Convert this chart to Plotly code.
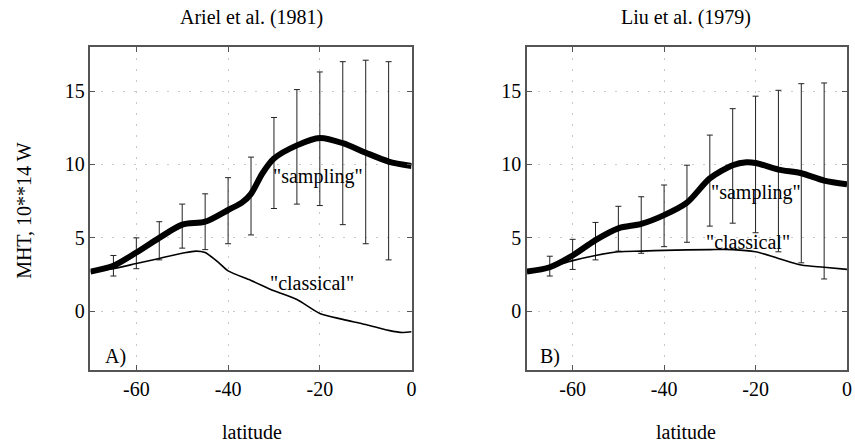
import plotly.graph_objects as go

# ---- data ----
lat_curve_A = [-70, -65, -60, -55, -50, -45, -40, -37, -35, -32.5, -30, -25, -20, -15, -10, -5, 0]
sampling_A = [2.7, 3.1, 4.0, 5.0, 5.9, 6.1, 6.9, 7.4, 8.0, 9.4, 10.4, 11.3, 11.8, 11.45, 10.8, 10.2, 9.9]

lat_class_A = [-70, -65, -60, -55, -50, -47, -45, -42, -40, -35, -30, -25, -20, -15, -10, -5, -2, 0]
classical_A = [2.7, 2.9, 3.25, 3.6, 3.95, 4.1, 4.0, 3.3, 2.75, 2.1, 1.4, 0.8, -0.15, -0.55, -0.9, -1.3, -1.45, -1.4]

lat_curve_B = [-70, -65, -60, -55, -50, -45, -40, -35, -30, -25, -22, -20, -15, -10, -5, 0]
sampling_B = [2.7, 3.0, 3.8, 4.85, 5.65, 5.95, 6.55, 7.4, 9.05, 9.95, 10.15, 10.1, 9.65, 9.4, 8.9, 8.65]

lat_class_B = [-70, -65, -60, -55, -50, -45, -40, -30, -25, -20, -15, -10, -5, 0]
classical_B = [2.7, 3.0, 3.45, 3.8, 4.05, 4.1, 4.15, 4.2, 4.2, 4.05, 3.6, 3.15, 3.0, 2.85]

lat_err = [-65, -60, -55, -50, -45, -40, -35, -30, -25, -20, -15, -10, -5]
err_lo_A = [2.4, 2.9, 3.5, 4.3, 4.2, 4.6, 5.2, 7.0, 7.3, 7.2, 5.9, 4.6, 3.5]
err_hi_A = [3.8, 5.0, 6.1, 7.3, 8.0, 9.1, 10.5, 13.2, 15.1, 16.3, 17.0, 17.1, 17.0]
err_lo_B = [2.4, 2.85, 3.5, 4.1, 3.95, 4.4, 4.7, 5.8, 6.0, 5.35, 4.05, 3.3, 2.2]
err_hi_B = [3.75, 4.9, 6.05, 7.15, 7.8, 8.6, 9.95, 12.0, 13.8, 14.65, 15.05, 15.5, 15.55]

x_ticks = [-60, -40, -20, 0]
y_ticks = [0, 5, 10, 15]

FONT = "Liberation Serif, Times New Roman, serif"
fig = go.Figure()


def add_panel(xa, ya, lat_s, samp, lat_c, clas, lo, hi):
    mid = [(a + b) / 2 for a, b in zip(lo, hi)]
    half = [(b - a) / 2 for a, b in zip(lo, hi)]
    fig.add_trace(go.Scatter(x=lat_err, y=mid, mode="markers", xaxis=xa, yaxis=ya,
                             marker=dict(size=1, color="rgba(0,0,0,0)"),
                             error_y=dict(type="data", array=half, visible=True,
                                          color="#222222", thickness=1, width=3),
                             showlegend=False, hoverinfo="skip"))
    fig.add_trace(go.Scatter(x=lat_c, y=clas, mode="lines", xaxis=xa, yaxis=ya,
                             line=dict(color="black", width=1.6, shape="spline", smoothing=0.8),
                             showlegend=False))
    fig.add_trace(go.Scatter(x=lat_s, y=samp, mode="lines", xaxis=xa, yaxis=ya,
                             line=dict(color="black", width=6, shape="spline", smoothing=0.8),
                             showlegend=False))


add_panel("x", "y", lat_curve_A, sampling_A, lat_class_A, classical_A, err_lo_A, err_hi_A)
add_panel("x2", "y2", lat_curve_B, sampling_B, lat_class_B, classical_B, err_lo_B, err_hi_B)

W, H = 855, 442
ydom = [1 - 370 / H, 1 - 47 / H]
axis_common = dict(showline=True, linecolor="#555555", linewidth=1.5, mirror="ticks",
                   ticks="inside", ticklen=5, tickcolor="#555555",
                   showgrid=True, gridcolor="#c8c8c8", gridwidth=1, griddash="2px,9px",
                   zeroline=False, tickfont=dict(family=FONT, size=20, color="black"))

fig.update_layout(
    width=W, height=H, margin=dict(l=0, r=0, t=0, b=0),
    plot_bgcolor="white", paper_bgcolor="white",
    font=dict(family=FONT, size=20, color="black"),
    xaxis=dict(domain=[91 / W, 414 / W], range=[-70, 0], tickvals=x_ticks,
               ticktext=[str(v) for v in x_ticks], anchor="y", **axis_common),
    yaxis=dict(domain=ydom, range=[-4, 18], tickvals=y_ticks, anchor="x", **axis_common),
    xaxis2=dict(domain=[530 / W, 852 / W], range=[-70, 0], tickvals=x_ticks,
                ticktext=[str(v) for v in x_ticks], anchor="y2", **axis_common),
    yaxis2=dict(domain=ydom, range=[-4, 18], tickvals=y_ticks, anchor="x2", **axis_common),
)

ann = [
    dict(text="Ariel et al. (1981)", x=253 / W, y=1 - 18 / H, xref="paper", yref="paper"),
    dict(text="Liu et al. (1979)", x=690 / W, y=1 - 18 / H, xref="paper", yref="paper"),
    dict(text="latitude", x=253 / W, y=1 - 432 / H, xref="paper", yref="paper"),
    dict(text="latitude", x=690 / W, y=1 - 432 / H, xref="paper", yref="paper"),
    dict(text="MHT, 10**14 W", x=24 / W, y=1 - 210 / H, xref="paper", yref="paper", textangle=-90),
    dict(text='"sampling"', x=-20.5, y=9.15, xref="x", yref="y"),
    dict(text='"classical"', x=-21.7, y=1.9, xref="x", yref="y"),
    dict(text="A)", x=-64.5, y=-3.05, xref="x", yref="y"),
    dict(text='"sampling"', x=-20, y=8.1, xref="x2", yref="y2"),
    dict(text='"classical"', x=-21.7, y=4.7, xref="x2", yref="y2"),
    dict(text="B)", x=-65, y=-3.05, xref="x2", yref="y2"),
]
for a in ann:
    fig.add_annotation(showarrow=False, font=dict(family=FONT, size=20, color="black"),
                       xanchor="center", yanchor="middle", **a)

fig.write_html("out.html")
